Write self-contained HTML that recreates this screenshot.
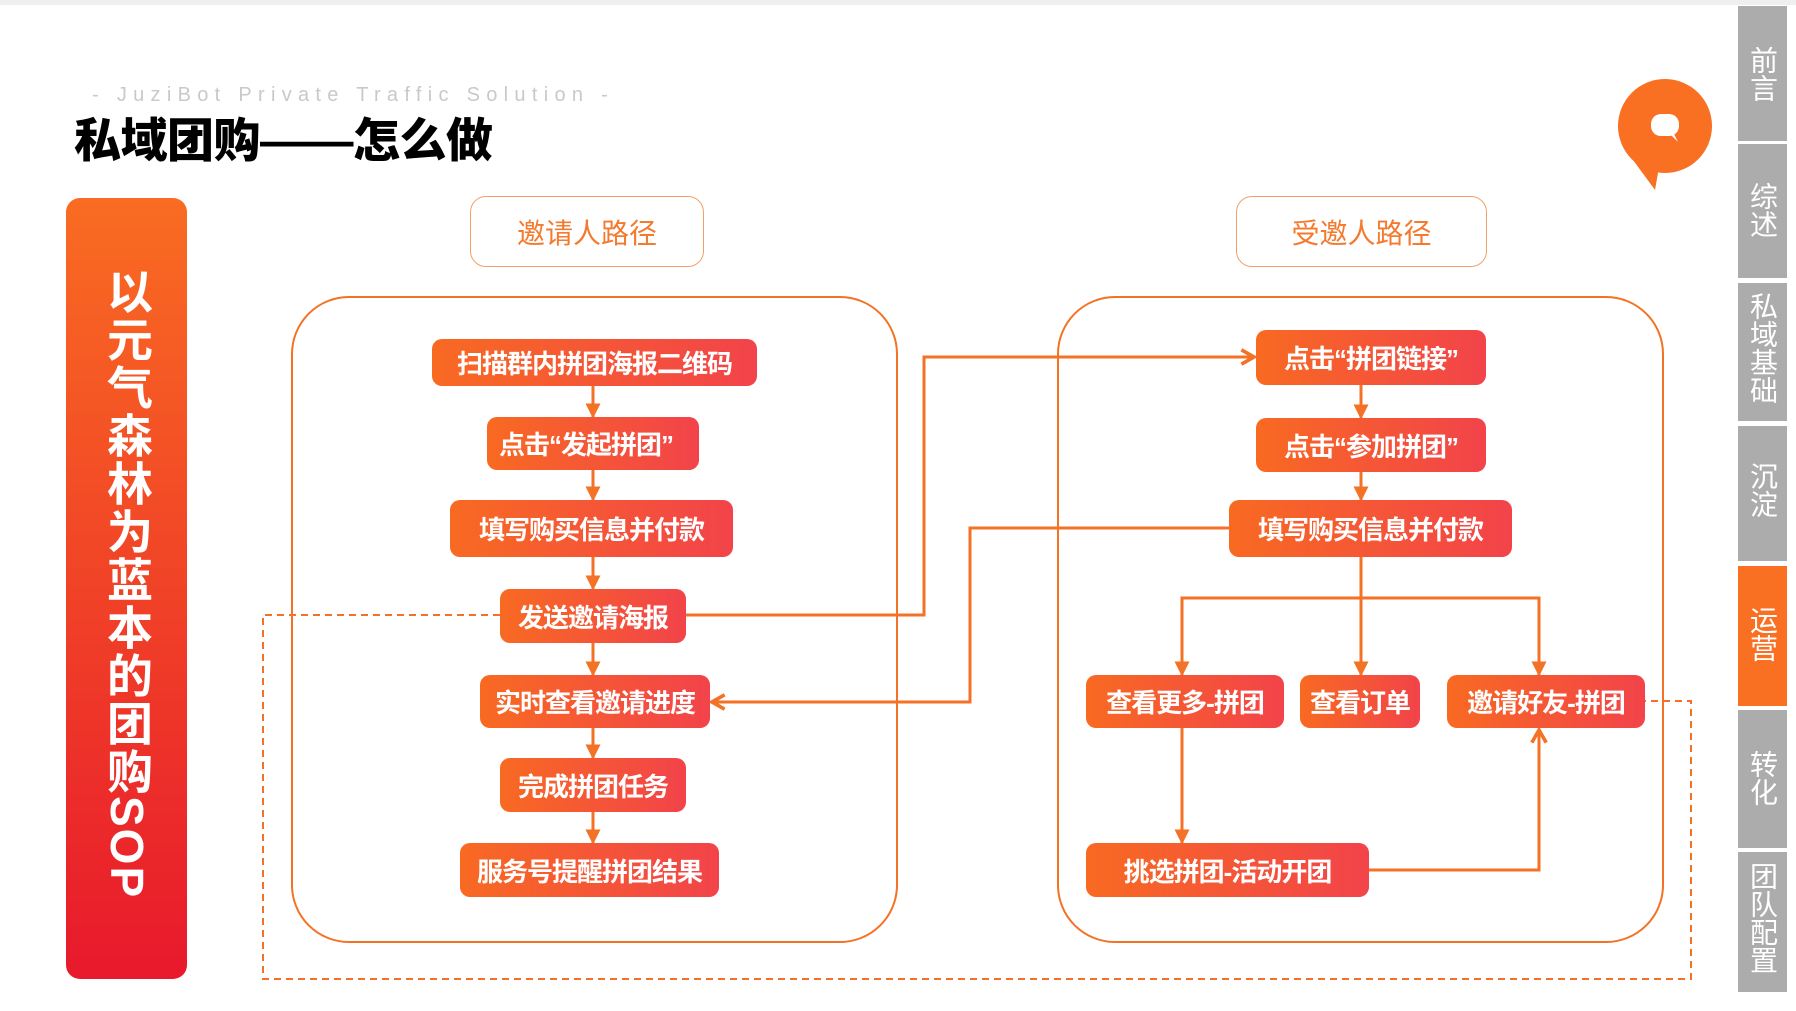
<!DOCTYPE html>
<html><head><meta charset="utf-8"><style>
*{margin:0;padding:0;box-sizing:border-box}
body{width:1796px;height:1011px;background:#fff;position:relative;overflow:hidden;font-family:"Liberation Sans","Noto Sans CJK SC",sans-serif}
.a{position:absolute}
.n{position:absolute;display:flex;align-items:center;justify-content:center;color:#fff;font-weight:bold;font-size:26px;border-radius:10px;background:linear-gradient(90deg,#f86a22,#f2434a);white-space:nowrap;overflow:hidden;letter-spacing:-1px}
.hd{position:absolute;border:1.5px solid #f4a06a;border-radius:16px;color:#f47a2e;font-size:28px;display:flex;align-items:center;justify-content:center}
.tab{position:absolute;left:1738px;width:49px;background:#acacac;color:#fff;font-size:28px;writing-mode:vertical-rl;line-height:49px}
</style></head><body>
<div class="a" style="left:0;top:0;width:1796px;height:5px;background:#eeeff1"></div>
<div class="a" style="left:92px;top:84px;font-size:20px;color:#c9c9c9;letter-spacing:6.3px;white-space:nowrap">- JuziBot Private Traffic Solution -</div>
<div class="a" style="left:74px;top:102px;font-size:47px;font-weight:900;color:#000;white-space:nowrap;letter-spacing:-0.5px">私域团购——怎么做</div>
<div class="a" style="left:66px;top:198px;width:121px;height:781px;border-radius:14px;background:linear-gradient(180deg,#f96c22,#e8192c)"></div>
<div class="a" style="left:66px;top:268px;width:121px;writing-mode:vertical-rl;color:#fff;font-weight:bold;font-size:46px;line-height:121px;letter-spacing:2px">以元气森林为蓝本的团购SOP</div>

<div class="hd" style="left:470px;top:196px;width:234px;height:71px">邀请人路径</div>
<div class="hd" style="left:1236px;top:196px;width:251px;height:71px">受邀人路径</div>

<svg class="a" style="left:0;top:0" width="1796" height="1011">
<defs>
<marker id="t" viewBox="0 0 10 10" refX="9" refY="5" markerWidth="5" markerHeight="5" orient="auto"><path d="M0,0L10,5L0,10z" fill="#f47225"/></marker>
<marker id="c" viewBox="0 0 10 10" refX="8" refY="5" markerWidth="6" markerHeight="6" orient="auto"><path d="M1,1L8,5L1,9" fill="none" stroke="#f47225" stroke-width="2"/></marker>
</defs>
<g fill="none" stroke="#f47225" stroke-width="2">
<rect x="292" y="297" width="605" height="645" rx="57"/>
<rect x="1058" y="297" width="605" height="645" rx="57"/>
</g>
<g fill="none" stroke="#f47225" stroke-width="3">
<path d="M593 386V417" marker-end="url(#t)"/>
<path d="M593 470V500" marker-end="url(#t)"/>
<path d="M593 557V589" marker-end="url(#t)"/>
<path d="M593 643V675" marker-end="url(#t)"/>
<path d="M593 728V758" marker-end="url(#t)"/>
<path d="M593 812V843" marker-end="url(#t)"/>
<path d="M1361 385V418" marker-end="url(#t)"/>
<path d="M1361 472V500" marker-end="url(#t)"/>
<path d="M1361 557V598M1182 675V598H1539V675" />
<path d="M1182 660V675" marker-end="url(#t)"/>
<path d="M1361 598V675" marker-end="url(#t)"/>
<path d="M1539 660V675" marker-end="url(#t)"/>
<path d="M1182 728V843" marker-end="url(#t)"/>
<path d="M1369 870H1539V730" marker-end="url(#c)"/>
<path d="M686 615H924V357H1254" marker-end="url(#c)"/>
<path d="M1229 528H970V702H712" marker-end="url(#c)"/>
</g>
<path d="M500 615H263V979H1691V701H1645" fill="none" stroke="#f47225" stroke-width="2" stroke-dasharray="7 5"/>
<circle cx="1665" cy="126" r="47" fill="#f97022"/>
<path d="M1633 160L1655 190L1662 150z" fill="#f97022"/>
<rect x="1651" y="114" width="28" height="22" rx="10" fill="#fff"/>
<path d="M1668 132L1678 142L1672 130z" fill="#fff"/>
</svg>

<div class="n" style="left:432px;top:339px;width:325px;height:47px">扫描群内拼团海报二维码</div>
<div class="n" style="left:487px;top:417px;width:212px;height:53px;justify-content:flex-start;padding-left:12px">点击“发起拼团”</div>
<div class="n" style="left:450px;top:500px;width:283px;height:57px">填写购买信息并付款</div>
<div class="n" style="left:500px;top:589px;width:186px;height:54px">发送邀请海报</div>
<div class="n" style="left:480px;top:675px;width:230px;height:53px">实时查看邀请进度</div>
<div class="n" style="left:500px;top:758px;width:186px;height:54px">完成拼团任务</div>
<div class="n" style="left:460px;top:843px;width:259px;height:54px">服务号提醒拼团结果</div>

<div class="n" style="left:1256px;top:330px;width:230px;height:55px">点击“拼团链接”</div>
<div class="n" style="left:1256px;top:418px;width:230px;height:54px">点击“参加拼团”</div>
<div class="n" style="left:1229px;top:500px;width:283px;height:57px">填写购买信息并付款</div>
<div class="n" style="left:1086px;top:675px;width:198px;height:53px">查看更多-拼团</div>
<div class="n" style="left:1300px;top:675px;width:120px;height:53px">查看订单</div>
<div class="n" style="left:1447px;top:675px;width:198px;height:53px">邀请好友-拼团</div>
<div class="n" style="left:1086px;top:843px;width:283px;height:54px">挑选拼团-活动开团</div>

<div class="tab" style="top:6px;height:135px;padding-top:40px">前言</div>
<div class="tab" style="top:144px;height:134px;padding-top:38px">综述</div>
<div class="tab" style="top:283px;height:138px;padding-top:9px">私域基础</div>
<div class="tab" style="top:426px;height:135px;padding-top:36px">沉淀</div>
<div class="tab" style="top:566px;height:140px;background:#f97022;padding-top:40px">运营</div>
<div class="tab" style="top:710px;height:138px;padding-top:40px">转化</div>
<div class="tab" style="top:852px;height:140px;padding-top:10px">团队配置</div>
</body></html>
